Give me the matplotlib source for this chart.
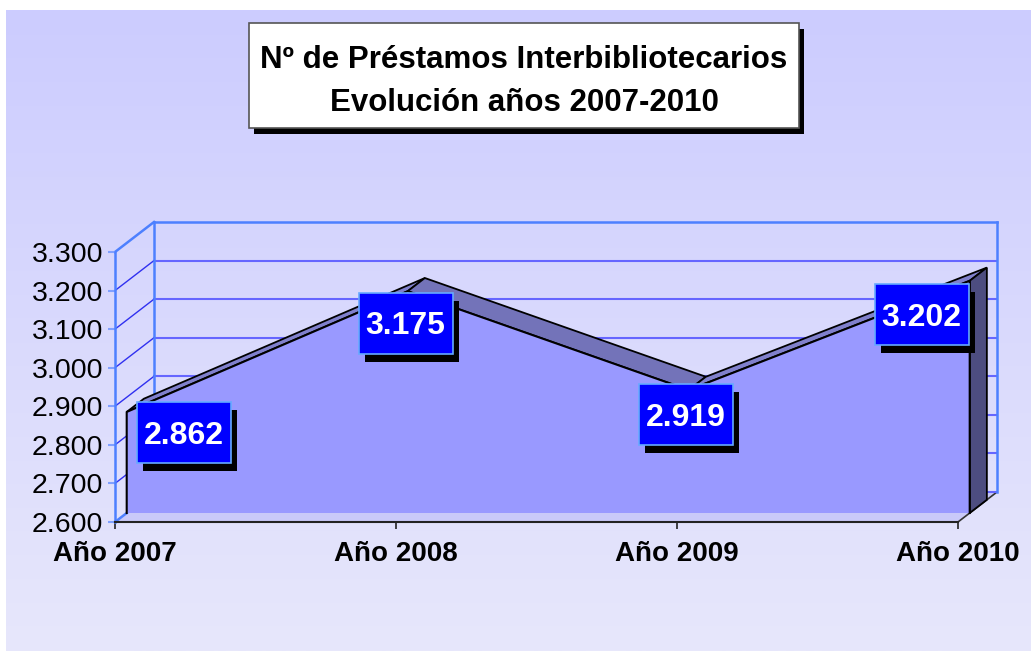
import matplotlib
matplotlib.use("Agg")
import matplotlib.pyplot as plt
import matplotlib.transforms as mtransforms
from matplotlib.patches import Polygon, Rectangle
from matplotlib.lines import Line2D
import numpy as np

# data
years = ["Año 2007", "Año 2008", "Año 2009", "Año 2010"]
prestamos = [2862, 3175, 2919, 3202]
y_ticks = [2600, 2700, 2800, 2900, 3000, 3100, 3200, 3300]
title_lines = ["Nº de Préstamos Interbibliotecarios", "Evolución años 2007-2010"]

plt.rcParams['font.family'] = ['Liberation Sans', 'DejaVu Sans']

W, H = 1031, 651
fig = plt.figure(figsize=(W / 100, H / 100), dpi=100)
fig.patch.set_facecolor('white')

# lavender gradient background
bg = fig.add_axes([6 / W, 0, 1 - 6 / W, (H - 10) / H])
g = np.linspace(0, 1, 256)[:, None, None]
c_top = np.array([204, 204, 255]) / 255
c_bot = np.array([231, 231, 251]) / 255
bg.imshow(c_top * (1 - g) + c_bot * g, aspect='auto', extent=[0, 1, 0, 1])
bg.axis('off')

# front plane of the 3d box
ax = fig.add_axes([115 / W, (H - 522) / H, 843 / W, 270 / H])
ax.set_xlim(0, 3)
ax.set_ylim(y_ticks[0], y_ticks[-1])
ax.patch.set_alpha(0)

DX, DY = 39, 30      # depth vector in pixels
F1, F2 = 0.3, 0.74   # front / back of the area series
ident = mtransforms.IdentityTransform()


def pt(x, v, f):
    return ax.transData.transform((x, v)) + np.array([DX * f, DY * f])


def seg(p0, p1, color, lw, z):
    ax.add_line(Line2D([p0[0], p1[0]], [p0[1], p1[1]], color=color, lw=lw,
                       transform=ident, clip_on=False, zorder=z))


def poly(verts, fc, ec='none', lw=0, z=1):
    ax.add_patch(Polygon(verts, closed=True, fc=fc, ec=ec, lw=lw,
                         transform=ident, clip_on=False, zorder=z, joinstyle='miter'))


lo, hi = y_ticks[0], y_ticks[-1]
n = len(years) - 1

# floor
poly([pt(0, lo, 0), pt(n, lo, 0), pt(n, lo, 1), pt(0, lo, 1)], '#C9C9F9', z=0.5)
seg(pt(n, lo, 0), pt(n, lo, 1), '#333333', 1.2, 0.6)

# walls
for v in y_ticks:
    edge = v in (lo, hi)
    seg(pt(0, v, 1), pt(n, v, 1), '#4D80FF' if v == hi else '#6666FF', 1.8 if v == hi else 1.5, 0.7)
    seg(pt(0, v, 0), pt(0, v, 1), '#4D80FF' if edge else '#3030F0', 1.8 if edge else 1.0, 0.7)
seg(pt(0, lo, 1), pt(0, hi, 1), '#4D80FF', 1.8, 0.7)
seg(pt(n, lo, 1), pt(n, hi, 1), '#4D80FF', 1.8, 0.7)

# area: top ribbons, right side, front face
for i in range(n):
    a, b = prestamos[i], prestamos[i + 1]
    poly([pt(i, a, F1), pt(i + 1, b, F1), pt(i + 1, b, F2), pt(i, a, F2)],
         '#8080CC' if b > a else '#7373B9', 'black', 1.3, z=1.0)
poly([pt(n, lo, F1), pt(n, prestamos[-1], F1), pt(n, prestamos[-1], F2), pt(n, lo, F2)],
     '#4D4D80', 'black', 1.3, z=1.1)
front = [pt(0, lo, F1)] + [pt(i, v, F1) for i, v in enumerate(prestamos)] + [pt(n, lo, F1)]
poly(front, '#9999FF', z=1.2)
fx_, fy_ = zip(*front)
ax.add_line(Line2D(fx_, fy_, color='black', lw=1.5, transform=ident, clip_on=False, zorder=1.3))

# data labels
label_off = [(57, 21), (-2, 32), (-3, 25), (-48, 34)]
bw, bh = 94, 61
for i, v in enumerate(prestamos):
    cx, cy = pt(i, v, F1) + np.array([label_off[i][0], -label_off[i][1]])
    ax.add_patch(Rectangle((cx - bw / 2 + 6, cy - bh / 2 - 8), bw, bh, fc='black', ec='none',
                           transform=ident, clip_on=False, zorder=4))
    ax.add_patch(Rectangle((cx - bw / 2, cy - bh / 2), bw, bh, fc='#0000FF', ec='#66AAFF', lw=1.2,
                           transform=ident, clip_on=False, zorder=5))
    ax.text(cx, cy - 11, f"{v:,}".replace(",", "."), transform=ident, ha='center', va='baseline',
            color='white', fontsize=23, fontweight='bold', zorder=6)

# axes
ax.set_yticks(y_ticks)
ax.set_yticklabels([f"{v:,}".replace(",", ".") for v in y_ticks])
ax.set_xticks(range(len(years)))
ax.set_xticklabels(years, fontweight='bold')
ax.tick_params(axis='y', colors='#80A0FF', length=5, width=1.5, pad=3.5, labelsize=20.5,
               labelcolor='black')
ax.tick_params(axis='x', colors='#222222', length=5, width=1.2, pad=9, labelsize=20,
               labelcolor='black')
for s in ('top', 'right'):
    ax.spines[s].set_visible(False)
ax.spines['left'].set_color('#4D80FF')
ax.spines['left'].set_linewidth(1.8)
ax.spines['bottom'].set_color('#222222')
ax.spines['bottom'].set_linewidth(1.5)

# title box
tx0, tx1, ty0, ty1 = 249, 799, 23, 128
fig.add_artist(Rectangle(((tx0 + 5) / W, 1 - (ty1 + 6) / H), (tx1 - tx0) / W, (ty1 - ty0) / H,
                         transform=fig.transFigure, fc='black', ec='none', zorder=3))
fig.add_artist(Rectangle((tx0 / W, 1 - ty1 / H), (tx1 - tx0) / W, (ty1 - ty0) / H,
                         transform=fig.transFigure, fc='white', ec='#555555', lw=1.2, zorder=4))
for k, line in enumerate(title_lines):
    fig.text((tx0 + tx1) / 2 / W, 1 - (68 + 43 * k) / H, line, ha='center', va='baseline',
             fontsize=22.5, fontweight='bold', zorder=5)

fig.savefig('out.png', dpi=100)
